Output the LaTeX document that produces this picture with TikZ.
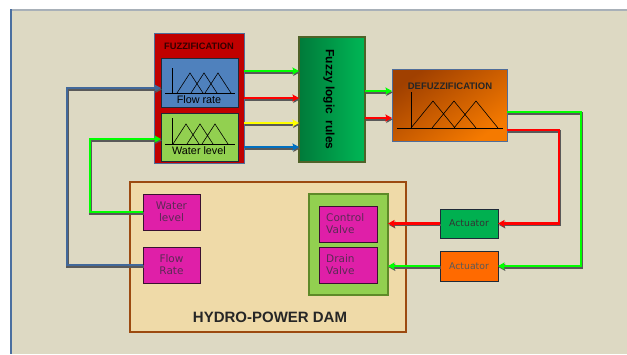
\documentclass[tikz,border=0pt]{standalone}
\usepackage{fontspec}
\setmainfont{Liberation Sans}
\newfontfamily\dvfont{DejaVu Sans}
\usetikzlibrary{arrows.meta,shadows,calc}
\definecolor{bgc}{HTML}{DDD9C3}
\definecolor{bluebar}{HTML}{4A6FA0}
\definecolor{topline}{HTML}{A8B0B8}
\definecolor{fuzzred}{HTML}{C00000}
\definecolor{frame}{HTML}{4F6D9A}
\definecolor{flowblue}{HTML}{4F81BD}
\definecolor{boxdark}{HTML}{1E2A38}
\definecolor{wlgreen}{HTML}{92D050}
\definecolor{rulesdark}{HTML}{007A3A}
\definecolor{ruleslight}{HTML}{00B856}
\definecolor{olive}{HTML}{4F6228}
\definecolor{defdark}{HTML}{A04000}
\definecolor{deflight}{HTML}{F57A00}
\definecolor{damfill}{HTML}{EFDAA8}
\definecolor{damedge}{HTML}{9C4A10}
\definecolor{mag}{HTML}{DF1FA8}
\definecolor{magedge}{HTML}{3A1030}
\definecolor{magtext}{HTML}{5B2A55}
\definecolor{contedge}{HTML}{5E8A28}
\definecolor{actgreen}{HTML}{00B050}
\definecolor{actorange}{HTML}{FF6A00}
\definecolor{lblue}{HTML}{41689A}
\definecolor{lgreen}{HTML}{00FF00}
\definecolor{lred}{HTML}{FF0000}
\definecolor{lyellow}{HTML}{FFFF00}
\definecolor{lblue2}{HTML}{0070C0}
\begin{document}
\begin{tikzpicture}[x=1pt,y=-1pt,
  bx/.style={draw, anchor=north west, inner sep=0pt, outer sep=0pt},
  magbox/.style={bx, fill=mag, draw=magedge, line width=0.9pt,
     drop shadow={shadow xshift=1pt, shadow yshift=-1pt, opacity=0.5},
     minimum width=57, minimum height=36},
  magtxt/.style={text=magtext, font=\dvfont\fontsize{10.5}{12}\selectfont, inner sep=0pt},
  actbox/.style={bx, draw=boxdark, line width=0.8pt,
     drop shadow={shadow xshift=1pt, shadow yshift=-1pt, opacity=0.5},
     minimum width=58},
  acttxt/.style={font=\dvfont\fontsize{9.3}{11}\selectfont, inner sep=0pt},
  mf/.style={line width=0.6pt, black},
  conn/.style={line width=2.7pt, -{Stealth[length=6.5pt,width=7pt,inset=1pt]},
     preaction={draw=black!65, line width=2.7pt,
       transform canvas={shift={(0.8pt,-1.4pt)}}}}
]
\useasboundingbox (0,0) rectangle (627,354);
\fill[white] (0,0) rectangle (627,354);
\fill[bgc] (11,10) rectangle (627,354);
\draw[topline, line width=1.2pt] (11,10) -- (627,10);
\draw[bluebar, line width=2.6pt] (11,9.4) -- (11,354);

% coordinates for connector levels
\coordinate (h71) at (0,71);
\coordinate (h98) at (0,98);
\coordinate (h123) at (0,123);
\coordinate (h147) at (0,147);
\coordinate (h91) at (0,91);
\coordinate (h118) at (0,118);
\coordinate (h112) at (0,112);
\coordinate (h130) at (0,130);
\coordinate (h88) at (0,88);
\coordinate (h139) at (0,139);
\coordinate (gx) at (581,0);
\coordinate (rx) at (559,0);
\coordinate (gl) at (90,0);
\coordinate (bl) at (67,0);

% Fuzzification
\node[bx, fill=fuzzred, draw=frame, line width=0.9pt, minimum width=90, minimum height=130] (fuzz) at (154,33) {};
\node[font=\bfseries\fontsize{9.3}{10}\selectfont, text=black!80!red, inner sep=0pt] (fuzzt) at (199,46.5) {FUZZIFICATION};
\node[bx, fill=flowblue, draw=boxdark, line width=1pt, minimum width=77, minimum height=49] (frf) at (161,58) {};
\node[font=\fontsize{10.8}{12}\selectfont, inner sep=0pt] (frft) at (199,100) {Flow rate};
\node[bx, fill=wlgreen, draw=boxdark, line width=1pt, minimum width=77, minimum height=48] (wlf) at (161,113) {};
\node[font=\fontsize{10.8}{12}\selectfont, inner sep=0pt] (wlft) at (199,151) {Water level};
% membership functions
\draw[mf] (172,68) -- (172,93) (165,93) -- (235,93);
\draw[mf] (177,93) -- (190,73) -- (203,93) (191,93) -- (204,73) -- (217,93) (205,93) -- (218,73) -- (231,93);
\draw[mf] (172,118) -- (172,144) (165,144) -- (235,144);
\draw[mf] (173,144) -- (186,124) -- (199,144) (187,144) -- (200,124) -- (213,144) (202,144) -- (215,124) -- (228,144);

% Fuzzy logic rules
\node[bx, left color=rulesdark, right color=ruleslight, draw=olive, line width=1.2pt, minimum width=66, minimum height=125] (rules) at (299,37) {};
\node[rotate=-90, font=\bfseries\fontsize{12}{14}\selectfont, inner sep=0pt] (rulest) at ([xshift=-3pt]rules.center) {Fuzzy logic\ \ rules};

% Defuzzification
\node[bx, top color=defdark, bottom color=deflight, shading angle=35, draw=frame, line width=1pt, minimum width=115, minimum height=72] (defuzz) at (392,69) {};
\node[font=\bfseries\fontsize{9.5}{10}\selectfont, text=black!85, inner sep=0pt] (defuzzt) at (450,86) {DEFUZZIFICATION};
\draw[mf] (411,92) -- (411,128) (397,128) -- (503,128);
\draw[mf] (411,128) -- (433,101) -- (455,128) (432,128) -- (454,101) -- (476,128) (454,128) -- (476,101) -- (498,128);

% Dam
\node[bx, fill=damfill, draw=damedge, line width=1.6pt, minimum width=276, minimum height=150] (dam) at (130,182) {};
\node[font=\bfseries\fontsize{15}{17}\selectfont, text=black!85, inner sep=0pt] (damt) at (270,317) {HYDRO-POWER DAM};
\node[magbox] (wl) at (143,194) {};
\node[magtxt, align=center] (wlt) at (wl.center) {Water\\level};
\node[magbox] (fr) at (143,247) {};
\node[magtxt, align=center] (frt) at (fr.center) {Flow\\Rate};
\node[bx, fill=wlgreen, draw=contedge, line width=1.2pt, minimum width=79, minimum height=101] (cont) at (309,194) {};
\node[magbox, minimum width=58] (cv) at (319,206) {};
\node[magtxt, align=left, anchor=west] (cvt) at ([xshift=7pt]cv.west) {Control\\Valve};
\node[magbox, minimum width=58] (dv) at (319,247) {};
\node[magtxt, align=left, anchor=west] (dvt) at ([xshift=7pt]dv.west) {Drain\\Valve};

% Actuators
\node[actbox, fill=actgreen, minimum height=29] (act1) at (440,209) {};
\node[acttxt, text=black!80] (act1t) at (act1.center) {Actuator};
\node[actbox, fill=actorange, minimum height=30] (act2) at (440,251) {};
\node[acttxt, text=black!65] (act2t) at (act2.center) {Actuator};

% Connectors fuzz -> rules
\draw[conn, lgreen] (fuzz.east |- h71) -- (rules.west |- h71);
\draw[conn, lred] (fuzz.east |- h98) -- (rules.west |- h98);
\draw[conn, lyellow] (fuzz.east |- h123) -- (rules.west |- h123);
\draw[conn, lblue2] (fuzz.east |- h147) -- (rules.west |- h147);
% rules -> defuzz
\draw[conn, lgreen] (rules.east |- h91) -- (defuzz.west |- h91);
\draw[conn, lred] (rules.east |- h118) -- (defuzz.west |- h118);
% defuzz -> actuators
\draw[conn, lgreen] (defuzz.east |- h112) -| (gx |- act2.east) -- (act2.east);
\draw[conn, lred] (defuzz.east |- h130) -| (rx |- act1.east) -- (act1.east);
% actuators -> valves
\draw[conn, lred] (act1.west) -- (cont.east |- act1.west);
\draw[conn, lgreen] (act2.west) -- (cont.east |- act2.west);
% feedback
\draw[conn, lgreen] (wl.west) -- (wl.west -| gl) |- (wlf.west |- h139);
\draw[conn, lblue] (fr.west) -- (fr.west -| bl) |- (frf.west |- h88);
\end{tikzpicture}
\end{document}
